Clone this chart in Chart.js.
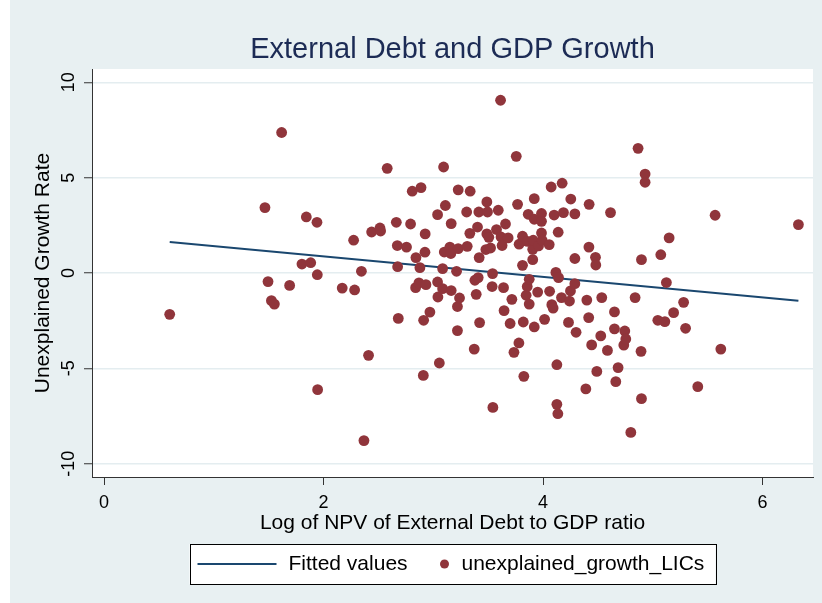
<!DOCTYPE html>
<html><head><meta charset="utf-8">
<script src="https://cdn.jsdelivr.net/npm/chart.js@4.4.1/dist/chart.umd.min.js"></script>
<style>html,body{margin:0;padding:0;background:#fff;}canvas{display:block;}</style>
</head><body>
<canvas id="c" width="822" height="603"></canvas>
<script>
// ---- data ----
const debtLog = [0.598,1.466,1.494,1.525,1.552,1.618,1.691,1.803,1.843,1.883,1.94,1.943,1.946,2.17,2.274,2.283,2.345,2.368,2.41,2.438,2.514,2.52,2.58,2.663,2.672,2.675,2.681,2.756,2.793,2.808,2.839,2.842,2.869,2.878,2.888,2.909,2.912,2.924,2.926,2.933,2.969,3.039,3.039,3.042,3.055,3.085,3.085,3.094,3.1,3.11,3.151,3.16,3.163,3.163,3.212,3.22,3.22,3.227,3.227,3.239,3.304,3.309,3.333,3.336,3.373,3.379,3.391,3.403,3.409,3.415,3.418,3.422,3.479,3.488,3.488,3.494,3.506,3.522,3.536,3.54,3.543,3.576,3.592,3.613,3.617,3.627,3.64,3.645,3.658,3.682,3.7,3.716,3.735,3.756,3.768,3.78,3.782,3.813,3.813,3.82,3.825,3.846,3.856,3.858,3.865,3.874,3.874,3.906,3.906,3.91,3.92,3.92,3.92,3.951,3.959,3.986,3.986,3.986,3.992,4.014,4.056,4.06,4.074,4.08,4.092,4.101,4.117,4.126,4.126,4.135,4.138,4.141,4.168,4.174,4.186,4.232,4.241,4.25,4.253,4.29,4.29,4.29,4.301,4.39,4.399,4.416,4.42,4.418,4.443,4.478,4.481,4.49,4.526,4.535,4.587,4.615,4.651,4.651,4.663,4.684,4.736,4.745,4.754,4.8,4.839,4.866,4.893,4.897,4.897,4.93,4.93,5.046,5.073,5.11,5.124,5.149,5.19,5.281,5.299,5.41,5.568,5.62,6.327];
const growthResid = [-2.17,3.43,-0.45,-1.45,-1.63,7.37,-0.65,0.47,2.94,0.54,2.66,-0.09,-6.12,-0.79,1.72,-0.89,0.09,-8.79,-4.32,2.15,2.36,2.2,5.49,2.66,1.44,0.33,-2.38,1.36,2.57,4.29,-0.77,0.81,-0.52,0.28,4.48,-5.37,-2.48,1.09,2.05,-0.61,-2.05,3.06,-0.47,-1.26,-4.72,0.23,-0.82,5.56,1.1,3.54,1.36,1.02,2.59,-0.92,0.09,-1.76,-3.02,4.36,1.28,-1.31,3.2,1.4,2.08,4.29,-3.99,-0.38,-1.12,2.41,-0.24,3.2,0.81,-2.6,1.23,3.73,2.05,3.2,1.87,1.31,-0.71,-0.03,-7.05,2.28,3.29,9.06,1.89,1.44,-0.77,-1.97,2.57,1.84,-2.65,-1.38,-4.16,6.12,3.6,-3.67,1.51,1.93,0.4,-2.57,-5.42,-1.17,-0.71,1.66,3.08,-0.33,-1.63,1.24,0.7,1.72,3.9,2.82,-2.83,-1.0,1.42,3.12,2.71,2.1,1.72,-2.43,1.49,-0.96,4.51,-1.66,-1.84,3.04,0.03,-4.81,-6.89,-7.38,2.14,-0.24,-1.29,4.71,3.17,-2.59,-1.47,-0.94,3.88,3.1,0.76,-0.56,-3.11,-6.08,-1.42,-2.34,3.6,1.36,-3.77,0.82,0.42,-5.16,-3.3,-1.29,-4.06,3.17,-2.04,-2.93,-5.7,-4.96,-3.78,-3.04,-3.46,-8.36,-1.29,6.54,-4.11,0.7,-6.59,5.19,4.76,-2.48,0.96,-2.55,-0.5,1.84,-2.08,-1.54,-2.9,-5.96,3.03,-3.99,2.54];
const fitX = [0.598, 6.327];
const fitY = [1.63, -1.45];
const xTicks = [0, 2, 4, 6];
const yTicks = [-10, -5, 0, 5, 10];
const titleText = 'External Debt and GDP Growth';
const xTitle = 'Log of NPV of External Debt to GDP ratio';
const yTitle = 'Unexplained Growth Rate';
const seriesNames = ['Fitted values', 'unexplained_growth_LICs'];

// ---- styles ----
const FONT = "'Liberation Sans', Arial, sans-serif";
const BG = '#e8f0f2';
const DOT = '#90353b';
const LINE = '#1a476f';
Chart.defaults.font.family = FONT;

const scatterPts = debtLog.map((x, i) => ({x: x, y: growthResid[i]}));
const fitPts = fitX.map((x, i) => ({x: x, y: fitY[i]}));

const bgPlugin = {
  id: 'bg',
  beforeDraw(chart) {
    const {ctx, chartArea: a} = chart;
    ctx.save();
    ctx.fillStyle = '#ffffff';
    ctx.fillRect(0, 0, chart.width, chart.height);
    ctx.fillStyle = BG;
    ctx.fillRect(10, 0, chart.width - 10, chart.height);
    ctx.fillStyle = '#ffffff';
    ctx.fillRect(a.left, a.top, a.right - a.left, a.bottom - a.top);
    ctx.restore();
  }
};

const yLabelPlugin = {
  id: 'yLabels',
  afterDraw(chart) {
    const {ctx} = chart;
    const ys = chart.scales.y;
    ctx.save();
    ctx.fillStyle = '#000';
    ctx.font = '18px ' + FONT;
    ctx.textAlign = 'center';
    ctx.textBaseline = 'alphabetic';
    yTicks.forEach(v => {
      const py = ys.getPixelForValue(v);
      ctx.save();
      ctx.translate(ys.left + 74, py);
      ctx.rotate(-Math.PI / 2);
      ctx.fillText(String(v), 0, 0);
      ctx.restore();
    });
    ctx.restore();
  }
};

const legendPlugin = {
  id: 'boxLegend',
  afterDraw(chart) {
    const {ctx, chartArea: a} = chart;
    const cx = (a.left + a.right) / 2;
    const W = 526, H = 40;
    const L = cx - W / 2, T = a.bottom + 67;
    const cy = T + H / 2;
    ctx.save();
    ctx.fillStyle = '#ffffff';
    ctx.fillRect(L, T, W, H);
    ctx.strokeStyle = '#000';
    ctx.lineWidth = 1;
    ctx.strokeRect(Math.round(L) + 0.5, Math.round(T) + 0.5, W, H);
    ctx.strokeStyle = LINE;
    ctx.lineWidth = 2;
    ctx.beginPath();
    ctx.moveTo(L + 8, cy);
    ctx.lineTo(L + 87, cy);
    ctx.stroke();
    ctx.fillStyle = '#000';
    ctx.font = '21px ' + FONT;
    ctx.textAlign = 'left';
    ctx.textBaseline = 'middle';
    ctx.fillText(seriesNames[0], L + 99, cy);
    ctx.fillStyle = DOT;
    ctx.beginPath();
    ctx.arc(L + 255, cy, 4.5, 0, Math.PI * 2);
    ctx.fill();
    ctx.fillStyle = '#000';
    ctx.fillText(seriesNames[1], L + 272, cy);
    ctx.restore();
  }
};

new Chart(document.getElementById('c'), {
  data: {
    datasets: [
      {type: 'line', label: seriesNames[0], data: fitPts, borderColor: LINE, borderWidth: 2,
       pointRadius: 0, fill: false, tension: 0, order: 1},
      {type: 'scatter', label: seriesNames[1], data: scatterPts, backgroundColor: DOT,
       borderWidth: 0, pointRadius: 5.4, pointHoverRadius: 5.4, order: 0}
    ]
  },
  options: {
    responsive: false,
    animation: false,
    devicePixelRatio: 1,
    layout: {padding: {top: 0, right: 9, bottom: 0, left: 0}},
    plugins: {
      legend: {display: false},
      tooltip: {enabled: false},
      title: {
        display: true, text: titleText, fullSize: false,
        color: '#1c2b55', font: {size: 29, weight: 'normal'},
        padding: {top: 33, bottom: 1.2}
      }
    },
    scales: {
      x: {
        type: 'linear', min: -0.11, max: 6.46,
        afterBuildTicks: s => { s.ticks = xTicks.map(v => ({value: v})); },
        afterFit: s => { s.height = 126; },
        grid: {drawOnChartArea: false, drawTicks: true, tickLength: 8, tickColor: '#333', tickWidth: 1},
        border: {display: true, color: '#333', width: 1},
        ticks: {color: '#000', font: {size: 18}, padding: 7, maxRotation: 0, minRotation: 0},
        title: {display: true, text: xTitle, color: '#000', font: {size: 21}, padding: {top: 0, bottom: 67}}
      },
      y: {
        type: 'linear', min: -10.7, max: 10.7,
        afterBuildTicks: s => { s.ticks = yTicks.map(v => ({value: v})); },
        afterFit: s => { s.width = 92; },
        grid: {color: '#e4edf0', lineWidth: 1.5, drawTicks: true, tickLength: 8, tickColor: '#333', tickWidth: 1},
        border: {display: true, color: '#333', width: 1},
        ticks: {display: false},
        title: {display: true, text: yTitle, color: '#000', font: {size: 21}, padding: {top: 31, bottom: 0}}
      }
    }
  },
  plugins: [bgPlugin, yLabelPlugin, legendPlugin]
});
</script>
</body></html>
